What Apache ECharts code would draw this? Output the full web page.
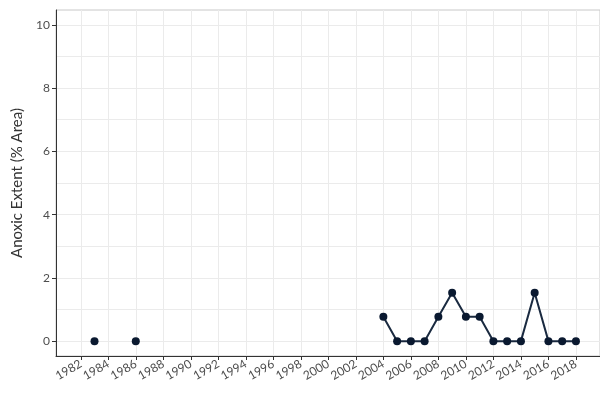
<!DOCTYPE html>
<html><head><meta charset="utf-8">
<script src="https://cdn.jsdelivr.net/npm/echarts@6/dist/echarts.min.js"></script>
<style>html,body{margin:0;padding:0;background:#fff}#c{width:600px;height:394px}</style>
</head><body><div id="c"></div>
<script>
var years = [1983,1984,1985,1986,1987,1988,1989,1990,1991,1992,1993,1994,1995,1996,1997,1998,1999,2000,2001,2002,2003,2004,2005,2006,2007,2008,2009,2010,2011,2012,2013,2014,2015,2016,2017,2018];
var anoxic = [0,null,null,0,null,null,null,null,null,null,null,null,null,null,null,null,null,null,null,null,null,0.77,0,0,0,0.77,1.53,0.77,0.77,0,0,0,1.53,0,0,0];
var xTicks = [1982,1984,1986,1988,1990,1992,1994,1996,1998,2000,2002,2004,2006,2008,2010,2012,2014,2016,2018];
var yTicks = [0,2,4,6,8,10];
var yGrid = [0,1,2,3,4,5,6,7,8,9,10];

var data = years.map(function(y,i){ return [y, anoxic[i] === null ? '-' : anoxic[i]]; });
var gridLineStyle = {color:'#ebebeb', width:1, type:'solid'};
var chart = echarts.init(document.getElementById('c'));
chart.setOption({
  animation:false,
  textStyle:{fontFamily:'Lato, "Open Sans", sans-serif'},
  grid:{left:56, right:0, top:10, bottom:38, outerBoundsMode:'none', containLabel:false,
        show:true, borderColor:'#c8c8c8', borderWidth:1},
  xAxis:{type:'value', min:1980.2, max:2019.75,
    axisLine:{show:true, onZero:false, lineStyle:{color:'#333', width:1}},
    axisTick:{show:true, customValues:xTicks, length:4, lineStyle:{color:'#333'}},
    axisLabel:{customValues:xTicks, rotate:30, color:'#4d4d4d', fontSize:12, margin:7,
      formatter:function(v){ return String(v); }},
    splitLine:{show:false}},
  yAxis:{type:'value', min:-0.47, max:10.47,
    name:'Anoxic Extent (% Area)', nameLocation:'middle', nameGap:31, nameRotate:90,
    nameTextStyle:{fontSize:15, color:'#333'},
    axisLine:{show:true, onZero:false, lineStyle:{color:'#333', width:1}},
    axisTick:{show:true, customValues:yTicks, length:4, lineStyle:{color:'#333'}},
    axisLabel:{customValues:yTicks, color:'#4d4d4d', fontSize:12, margin:6},
    splitLine:{show:false}},
  series:[
    {type:'line', data:[], silent:true, z:0, zlevel:0,
     markLine:{silent:true, z:0, symbol:['none','none'], label:{show:false}, lineStyle:gridLineStyle,
       emphasis:{disabled:true},
       data: yGrid.map(function(v){return {yAxis:v};}).concat(xTicks.map(function(v){return {xAxis:v};}))}},
    {type:'line', data:data, connectNulls:false, z:5,
     symbol:'circle', symbolSize:8, showAllSymbol:true,
     lineStyle:{color:'#1a2a40', width:2},
     itemStyle:{color:'#0a1930', borderWidth:0}}
  ]
});
</script></body></html>
